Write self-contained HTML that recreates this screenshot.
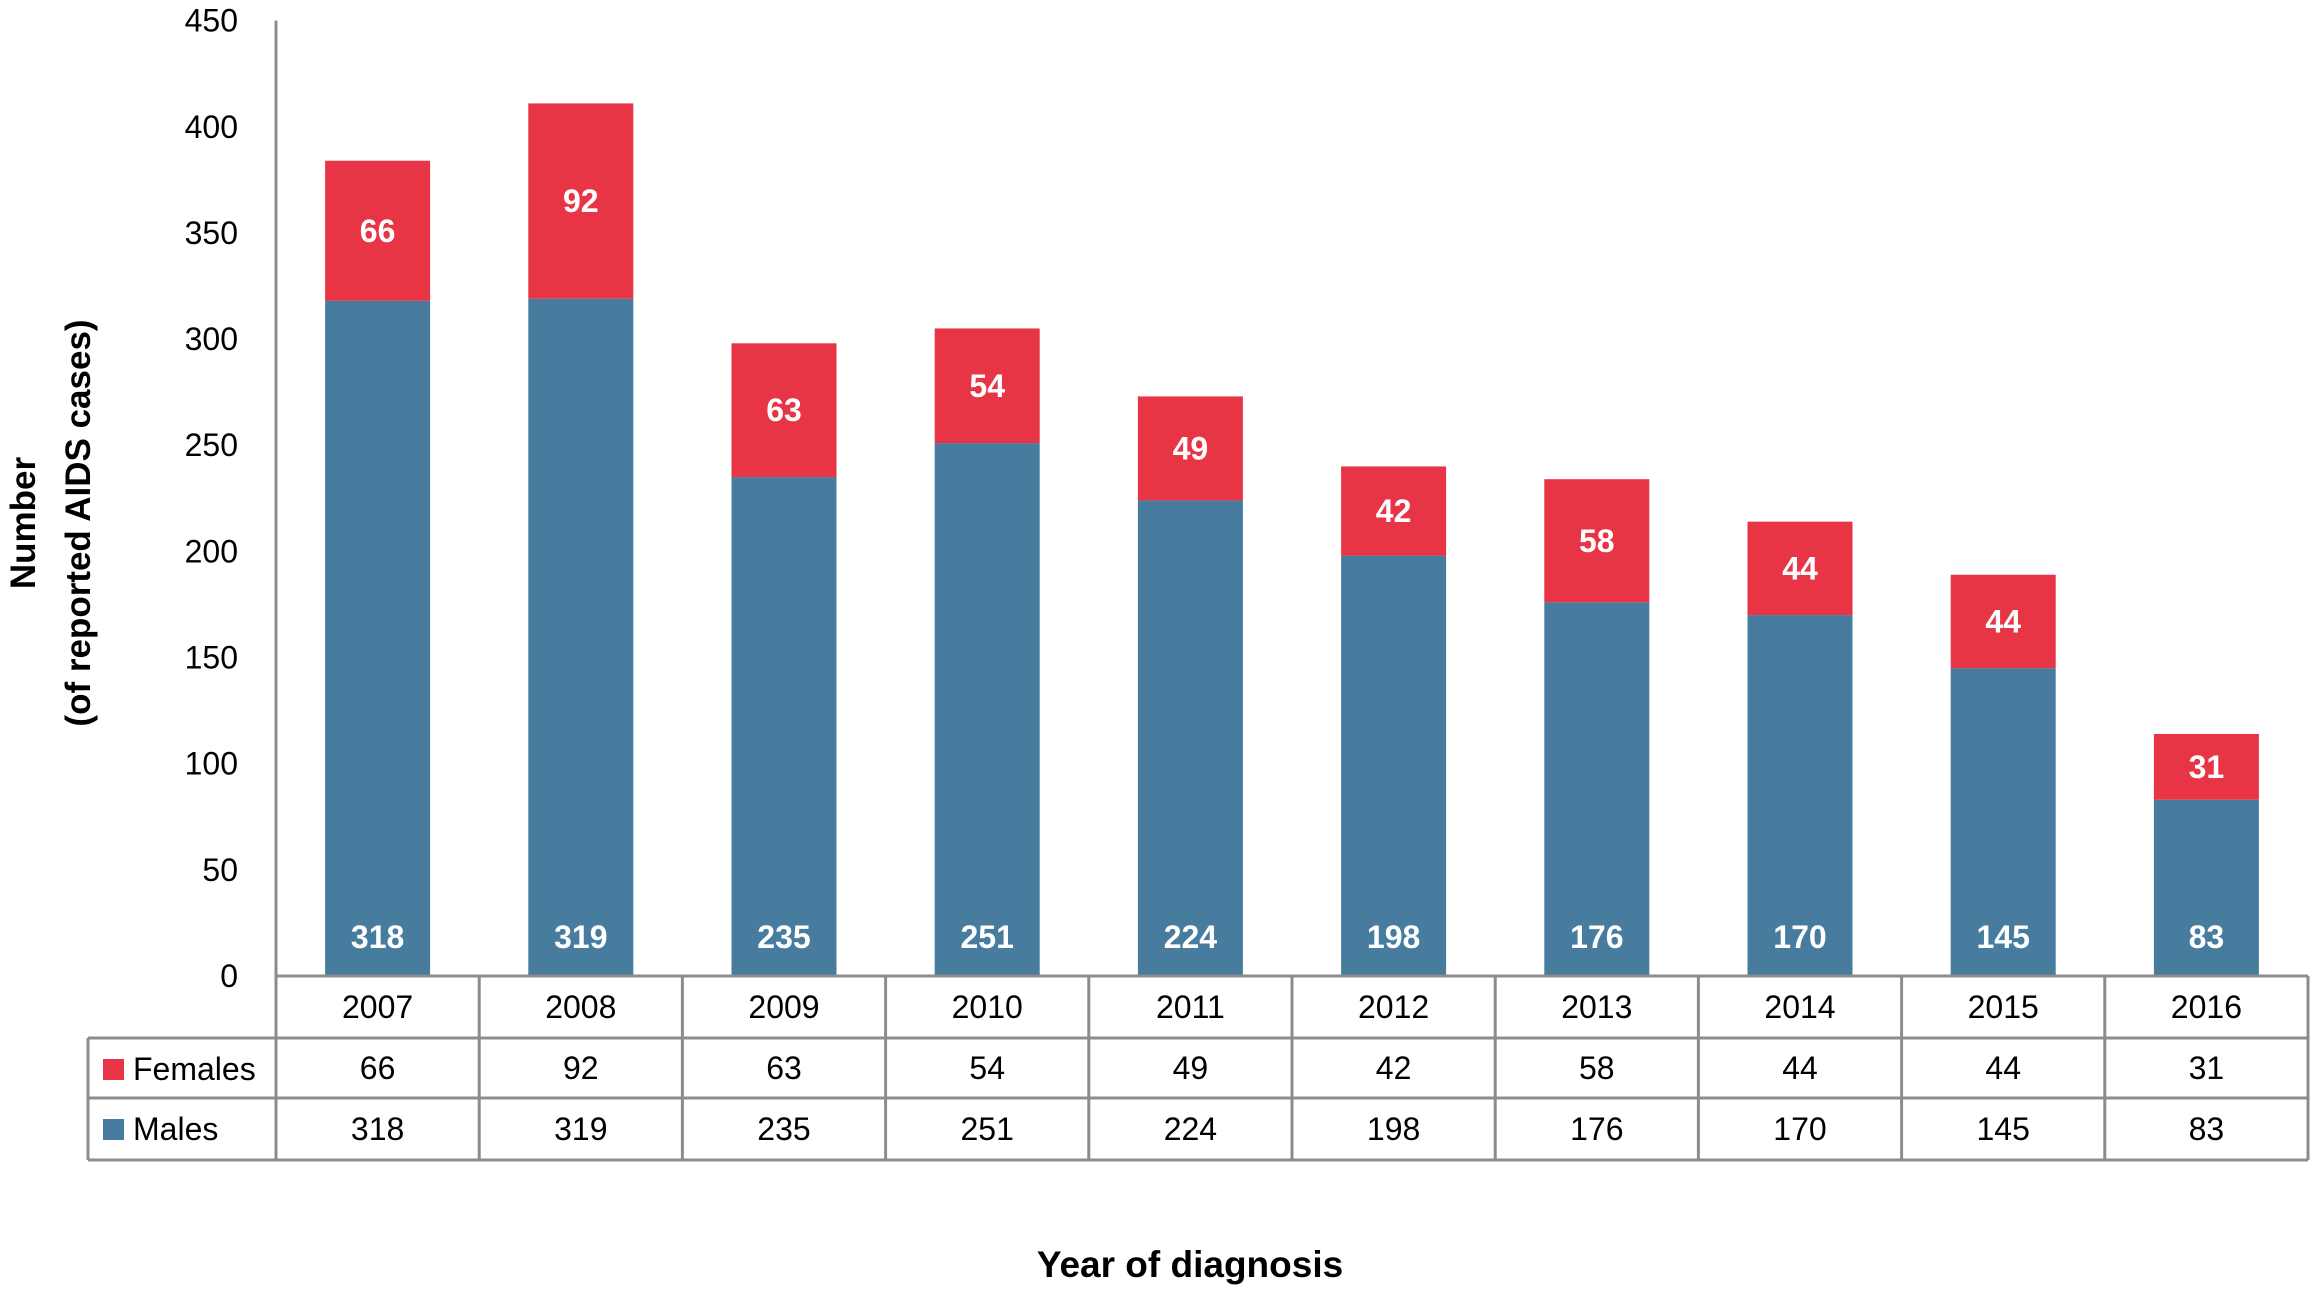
<!DOCTYPE html>
<html><head><meta charset="utf-8"><style>
html,body{margin:0;padding:0;background:#fff}
svg{display:block;font-family:"Liberation Sans",sans-serif}
</style></head><body>
<svg id="chart" width="2311" height="1294" viewBox="0 0 2311 1294" xmlns="http://www.w3.org/2000/svg"></svg>
<script>
const years = ["2007","2008","2009","2010","2011","2012","2013","2014","2015","2016"];
const males = [318,319,235,251,224,198,176,170,145,83];
const females = [66,92,63,54,49,42,58,44,44,31];
const yTicks = [0,50,100,150,200,250,300,350,400,450];

const NS="http://www.w3.org/2000/svg";
const svg=document.getElementById('chart');
const axisX=276, y0=976, yTop=20.6, yMax=450;
const tableL=88, tableR=2308, colW=(tableR-axisX)/years.length;
const rows=[976,1038,1098,1160];
const barW=105;
const BLUE="#477C9E", RED="#E83546", GRID="#8c8c8c";
function Y(v){return y0-(v/yMax)*(y0-yTop);}
function X(i){return axisX+colW*(i+0.5);}
function el(tag,attrs,parent){const e=document.createElementNS(NS,tag);for(const k in attrs)e.setAttribute(k,attrs[k]);(parent||svg).appendChild(e);return e;}
function txt(s,attrs,parent){const e=el('text',attrs,parent);e.textContent=s;return e;}

// y axis ticks
const ya=el('g',{});


yTicks.forEach(t=>{
  const tl=txt(String(t),{x:axisX-38,y:Y(t)+11,'font-size':32,'text-anchor':'end',fill:'#000'},ya);
  
  
});
const axl=el('line',{x1:axisX,y1:yTop,x2:axisX,y2:y0,stroke:GRID,'stroke-width':3},ya);



// bars
years.forEach((yr,i)=>{
  const g=el('g',{});
  
  
  const cx=X(i);
  const m=el('rect',{x:cx-barW/2,y:Y(males[i]),width:barW,height:y0-Y(males[i]),fill:BLUE},g);
  
  
  const f=el('rect',{x:cx-barW/2,y:Y(males[i]+females[i]),width:barW,height:Y(males[i])-Y(males[i]+females[i]),fill:RED},g);
  
  
  const ml=txt(String(males[i]),{x:cx,y:y0-28,'font-size':32,'font-weight':'bold','text-anchor':'middle',fill:'#fff'},g);
  
  
  const fy=(Y(males[i])+Y(males[i]+females[i]))/2+11;
  const fl=txt(String(females[i]),{x:cx,y:fy,'font-size':32,'font-weight':'bold','text-anchor':'middle',fill:'#fff'},g);
  
  
});

// data table
const tb=el('g',{});


const ls={stroke:GRID,'stroke-width':3};
el('line',Object.assign({x1:axisX,y1:rows[0],x2:tableR,y2:rows[0]},ls),tb);
el('line',Object.assign({x1:tableL,y1:rows[1],x2:tableR,y2:rows[1]},ls),tb);
el('line',Object.assign({x1:tableL,y1:rows[2],x2:tableR,y2:rows[2]},ls),tb);
el('line',Object.assign({x1:tableL,y1:rows[3],x2:tableR,y2:rows[3]},ls),tb);
el('line',Object.assign({x1:tableL,y1:rows[1],x2:tableL,y2:rows[3]},ls),tb);
for(let i=0;i<=years.length;i++){
  const x=axisX+colW*i;
  el('line',Object.assign({x1:x,y1:rows[0],x2:x,y2:rows[3]},ls),tb);
}
years.forEach((yr,i)=>{
  const a=txt(yr,{x:X(i),y:rows[0]+42,'font-size':32,'text-anchor':'middle',fill:'#000'},tb);
  
  
  const b=txt(String(females[i]),{x:X(i),y:rows[1]+41,'font-size':32,'text-anchor':'middle',fill:'#000'},tb);
  
  
  const c=txt(String(males[i]),{x:X(i),y:rows[2]+42,'font-size':32,'text-anchor':'middle',fill:'#000'},tb);
  
  
});
const lf=el('g',{},tb);


el('rect',{x:103,y:rows[1]+21,width:21,height:21,fill:RED},lf);
txt('Females',{x:133,y:rows[1]+42,'font-size':32,fill:'#000'},lf);
const lm=el('g',{},tb);


el('rect',{x:103,y:rows[2]+21,width:21,height:21,fill:BLUE},lm);
txt('Males',{x:133,y:rows[2]+42,'font-size':32,fill:'#000'},lm);

// titles
const yt=el('text',{transform:'translate(0,523) rotate(-90)','font-size':35,'font-weight':'bold','text-anchor':'middle',fill:'#000'});


el('tspan',{x:0,y:35},yt).textContent='Number';
el('tspan',{x:0,y:90},yt).textContent='(of reported AIDS cases)';
const xt=txt('Year of diagnosis',{x:1190,y:1277,'font-size':37,'font-weight':'bold','text-anchor':'middle',fill:'#000'});


</script>
</body></html>
